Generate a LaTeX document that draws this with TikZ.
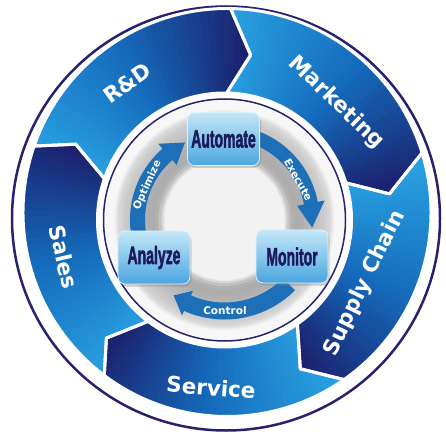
\documentclass[tikz,border=0pt]{standalone}
\usepackage{fontspec}
\usepackage{graphicx}
\usetikzlibrary{shadows}
\newfontfamily\labelfont{DejaVu Sans}
\newfontfamily\boxfont{Liberation Sans}[BoldFeatures={FakeBold=2.5}]
\definecolor{seglight}{HTML}{2BA8E6}
\definecolor{segmid}{HTML}{1569BA}
\definecolor{segdark}{HTML}{1B1E6A}
\definecolor{rimnavy}{HTML}{26236E}
\definecolor{arrowblue}{HTML}{1D6FB8}
\definecolor{boxtop}{HTML}{C4E7F9}
\definecolor{boxmid}{HTML}{86C8EE}
\definecolor{boxbot}{HTML}{4AA6DE}
\definecolor{boxtext}{HTML}{1C1A5C}

\tikzset{seglabel/.style = {text=white, inner sep=0pt,
                            font=\labelfont\bfseries\fontsize{21.5}{24}\selectfont},
         arrowlabel/.style = {text=white, inner sep=0pt,
                              font=\labelfont\bfseries\fontsize{10.5}{12}\selectfont},
         stepbox/.style = {rounded corners=7pt, minimum width=72pt, minimum height=53pt,
                           inner sep=0pt, top color=boxtop, middle color=boxmid, bottom color=boxbot,
                           draw=boxtop!60!white, line width=0.8pt, text=boxtext,
                           drop shadow={shadow xshift=1.5pt, shadow yshift=-2.5pt, opacity=0.35}},
         arrowband/.style = {fill=arrowblue}
        }

% one chevron of the outer ring: tail angle, head angle
\newcommand\segpath[2]{([shift={(oc)}]#1:204) arc[start angle=#1, end angle=#2, radius=204]
   -- ([shift={(ic)}]#2-8:167) -- ([shift={(ic)}]#2:127) arc[start angle=#2, end angle=#1, radius=127]
   -- ([shift={(ic)}]#1-8:167) -- cycle}

% curved arrow on the grey ring: start, head base, tip, radius, half body, half head
\newcommand\ringarrow[6]{%
  \pgfmathsetmacro\rin{#4-#5}\pgfmathsetmacro\rout{#4+#5}%
  \pgfmathsetmacro\hin{#4-#6}\pgfmathsetmacro\hout{#4+#6}%
  \fill[arrowband] ([shift={(ic)}]#1:\rin) arc[start angle=#1, end angle=#2, radius=\rin]
     -- ([shift={(ic)}]#2:\hin) -- ([shift={(ic)}]#3:#4) -- ([shift={(ic)}]#2:\hout)
     -- ([shift={(ic)}]#2:\rout) arc[start angle=#2, end angle=#1, radius=\rout] -- cycle;}

\newcommand\boxword[1]{\scalebox{0.56}[1]{\boxfont\bfseries\fontsize{25}{25}\selectfont #1}}

\begin{document}
\begin{tikzpicture}[x=1pt, y=1pt]
\useasboundingbox (-223,-220.5) rectangle (223,220.5);
\fill[white] (-223,-220.5) rectangle (223,220.5);
\coordinate (oc) at (4,8);
\coordinate (ic) at (1.5,0.5);
\draw[rimnavy, line width=2.5] (3,2) ellipse [x radius=214, y radius=212];
% outer chevrons, shaded from tail to head
\foreach \tail/\head in {161/89, 89/17, 17/-55, -55/-127, 233/161}
  {\begin{scope}
     \clip \segpath{\tail}{\head};
     \foreach \k in {0,...,41}
       {\pgfmathsetmacro\ang{\tail+4-\k*(\tail-\head+12)/41}
        \pgfmathtruncatemacro\pa{min(100,\k*100/22)}
        \pgfmathtruncatemacro\pb{max(0,(\k-22)*100/19)}
        \colorlet{slicecol}{segmid!\pa!seglight}
        \colorlet{slicecol}{segdark!\pb!slicecol}
        \fill[slicecol] (ic) -- ([shift={(ic)}]\ang+1.5:240) -- ([shift={(ic)}]\ang-3:240) -- cycle;}
   \end{scope}}
\foreach \tail/\head in {161/89, 89/17, 17/-55, -55/-127, 233/161}
  \draw[white, line width=3, line join=round] \segpath{\tail}{\head};
% inner ring
\filldraw[fill=black!3, draw=rimnavy, line width=1.5] (ic) circle[radius=121];
\foreach \r/\g in {110/7, 108/12, 106/16, 103/19, 100/21, 96/23, 92/25, 88/27, 84/29, 80/31, 76/32, 72/32, 69/30, 66/24, 63/15, 61/9}
  \fill[black!\g] (ic) circle[radius=\r];
\fill[black!5] (ic) circle[radius=60];
% arrows between the steps
\ringarrow{190}{131}{117}{87}{7.5}{14}
\ringarrow{70}{11}{-5}{88}{7}{14}
\ringarrow{-45}{-114}{-124}{91}{8.5}{13.5}
\foreach \nm/\txt/\ang/\rad/\rot in {opt/Optimize/155.6/84.6/65.5, exe/Execute/28.6/84/-61, ctl/Control/-89.7/91/0}
   \node[arrowlabel, rotate=\rot] (\nm) at ([shift={(ic)}]\ang:\rad) {\txt};
% the three steps
\foreach \n/\x/\y in {Automate/0.5/81.5, Analyze/-69/-37, Monitor/69/-36}
   \node[stepbox] (\n) at (\x,\y) {\boxword{\n}};
% labels of the chevrons
\foreach \nm/\txt/\ang/\rad/\rot in {rd/R\&D/125.4/168/35.4, mkt/Marketing/46.4/162/-44, sc/Supply Chain/-24.3/154/64, srv/Service/-94.6/168/-4.6, sal/Sales/192.9/165/-77}
   \node[seglabel, rotate=\rot] (\nm) at ([shift={(ic)}]\ang:\rad) {\txt};
\end{tikzpicture}
\end{document}
